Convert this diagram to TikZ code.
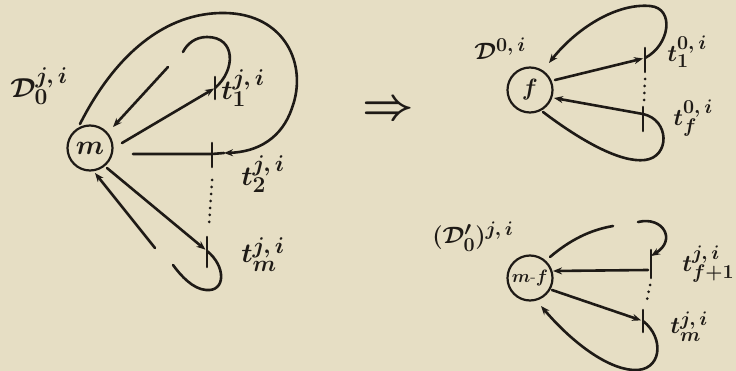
\documentclass[tikz,border=0pt]{standalone}
\usetikzlibrary{arrows.meta}
\definecolor{paper}{RGB}{230,222,196}
\definecolor{ink}{RGB}{30,26,22}
\newcommand{\lbL}[1]{\scalebox{1.1}{\fontsize{24.88}{28}\selectfont\boldmath$#1$}}
\newcommand{\lbR}[1]{\scalebox{0.95}{\fontsize{24.88}{28}\selectfont\boldmath$#1$}}
\begin{document}
\begin{tikzpicture}[x=1pt,y=-1pt,line width=2.6pt,draw=ink,text=ink,line cap=round,
  arr/.style={-{Stealth[length=9pt,width=7pt]}},
  state/.style={circle,draw=ink,line width=2.2pt,minimum size=45pt,inner sep=0pt},
  dotline/.style={line width=3pt,line cap=round,dash pattern=on 0pt off 7pt},
  lab/.style={anchor=base west,inner sep=0pt}]
\fill[paper] (0,0) rectangle (736,371);
\useasboundingbox (0,0) rectangle (736,371);

% ---------- left diagram ----------
\node[state] (m) at (90,148) {\lbL{m}};
\node[lab] (Dji) at (9,98) {\lbL{\mathcal{D}_0^{j,\,i}}};

\coordinate (t1) at (215,88);
\coordinate (t2) at (212,154);
\coordinate (tm) at (207,251);
\draw (215,77) -- (215,99);
\draw (212,143) -- (212,167);
\draw (207,237) -- (207,267);
\node[lab] (lt1) at (220,100) {\lbL{t_1^{j,\,i}}};
\node[lab] (lt2) at (240,186) {\lbL{t_2^{j,\,i}}};
\node[lab] (ltm) at (240,263) {\lbL{t_m^{j,\,i}}};

% m -> t1
\draw[arr,shorten >=1pt] ([shift={(32,-5)}]m.center) -- (t1);
% small loop at t1
\coordinate (h1) at (183,52);
\coordinate (h1b) at (168,67);
\draw (t1) .. controls (236,70) and (236,37) .. (207,37) .. controls (195,37) and (187,44) .. (h1);
\draw[arr] (h1b) -- ([shift={(23,-21)}]m.center);
% big loop ending at t2
\coordinate (bl) at (224,153);
\draw[arr] ([shift={(-10,-24)}]m.center) .. controls (115,55) and (165,12) .. (225,13)
  .. controls (285,14) and (308,65) .. (292,108) .. controls (282,138) and (258,152) .. (bl);
% m -- t2
\draw ([shift={(43,6)}]m.center) -- (t2) -- (bl);
% dots
\draw[dotline] (212,180) -- (209,225);
% m -> tm
\draw[arr,shorten >=2pt] ([shift={(17,20)}]m.center) -- (tm);
% bottom loop at tm
\coordinate (h2) at (173,265);
\coordinate (h2b) at (155,248);
\draw (tm) .. controls (226,266) and (226,292) .. (206,290) .. controls (193,289) and (181,276) .. (h2);
\draw[arr] (h2b) -- ([shift={(5,25)}]m.center);

% ---------- implication ----------
\node[inner sep=0pt] (imp) at (388,111) {\scalebox{1.8}{\fontsize{24.88}{28}\selectfont\boldmath$\Rightarrow$}};

% ---------- right top diagram ----------
\node[state] (f) at (530,90) {\lbR{f}};
\node[lab] (D0i) at (473,60) {\lbR{\mathcal{D}^{0,\,i}}};
\coordinate (s1) at (645,58);
\coordinate (sf) at (643,114);
\draw (645,48) -- (645,72);
\draw (643,107) -- (643,131);
\node[lab] (ls1) at (666,62) {\lbR{t_1^{0,\,i}}};
\node[lab] (lsf) at (672,126) {\lbR{t_f^{0,\,i}}};
\draw[arr,shorten >=2pt] ([shift={(25,-10)}]f.center) -- (s1);
\draw[arr] (s1) .. controls (670,45) and (675,8) .. (650,6)
  .. controls (615,3) and (575,30) .. ([shift={(19,-27)}]f.center);
\draw[dotline] (645,79) -- (644,101);
\draw[arr] ([shift={(13,22)}]f.center) .. controls (580,140) and (620,163) .. (645,160)
  .. controls (670,157) and (670,120) .. (sf) -- ([shift={(24,8)}]f.center);

% ---------- right bottom diagram ----------
\node[state] (g) at (530,278) {\scalebox{0.72}{\fontsize{24.88}{28}\selectfont\boldmath$m\mbox{-}f$}};
\node[lab] (Dp) at (431,244) {\lbR{(\mathcal{D}_0')^{j,\,i}}};
\coordinate (u1) at (651,256);
\coordinate (u1b) at (648,270);
\coordinate (um) at (643,321);
\draw (651,250) -- (651,278);
\draw (643,310) -- (643,332);
\node[lab] (lu1) at (681,272) {\lbR{t_{f+1}^{j,\,i}}};
\node[lab] (lum) at (669,334) {\lbR{t_m^{j,\,i}}};
\coordinate (h3) at (613,226);
\coordinate (h3b) at (638,222);
\draw ([shift={(20,-21)}]g.center) .. controls (570,240) and (590,230) .. (h3);
\draw[arr] (h3b) .. controls (663,216) and (677,240) .. (u1);
\draw[arr] (u1b) -- ([shift={(23,-7)}]g.center);
\draw[dotline] (650,285) -- (646,305);
\draw[arr,shorten >=2pt] ([shift={(22,12)}]g.center) -- (um);
\draw[arr] (um) .. controls (665,338) and (662,372) .. (633,370)
  .. controls (605,368) and (570,340) .. ([shift={(11,28)}]g.center);
\end{tikzpicture}
\end{document}
